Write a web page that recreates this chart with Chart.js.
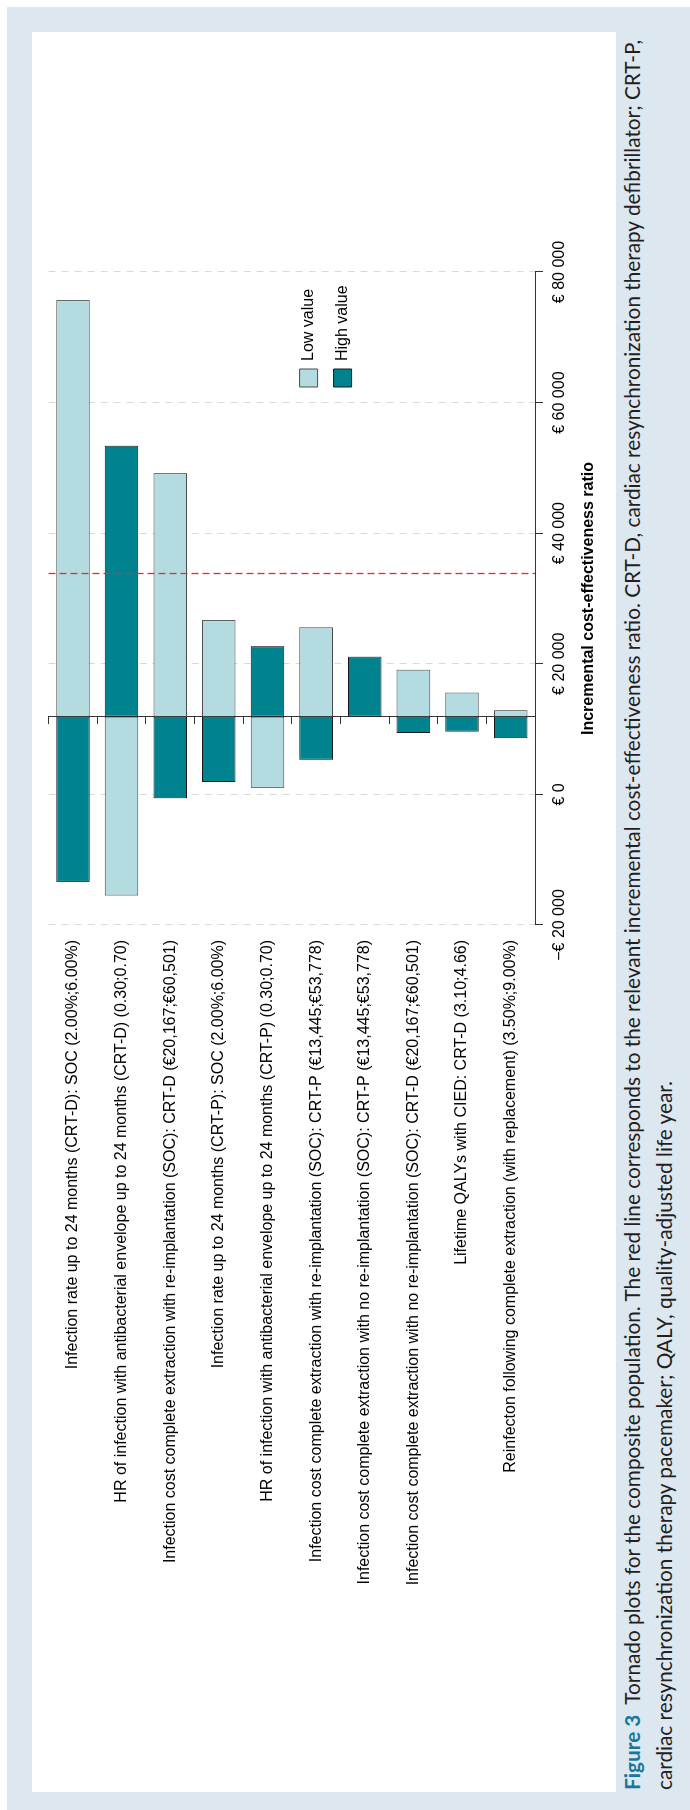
<!DOCTYPE html>
<html>
<head>
<meta charset="utf-8">
<script src="https://cdn.jsdelivr.net/npm/chart.js@4.4.1/dist/chart.umd.min.js"></script>
<style>
  html, body { margin: 0; padding: 0; background: #fff; }
  body { width: 690px; height: 1810px; position: relative; overflow: hidden; }
  #frame { position: absolute; left: 7px; top: 7px; width: 683px; height: 1803px; background: #dde7f0; }
  #panel { position: absolute; left: 32px; top: 32px; width: 584px; height: 1760px; background: #fff; }
  #chartBox { position: absolute; left: 32px; top: 1792px; width: 1760px; height: 584px;
              transform-origin: 0 0; transform: rotate(-90deg); }
  #caption { position: absolute; left: 616px; top: 1792px; width: 1760px; height: 74px;
             transform-origin: 0 0; transform: rotate(-90deg);
             font-family: Lato, "Open Sans", sans-serif; color: #231f20; }
  .cl { position: absolute; left: 2px; height: 32px; line-height: 32px; white-space: nowrap; }
  #cap1 { top: 0px; }
  #cap2 { top: 32px; }
  .fig { font-weight: bold; color: #15789a; }
</style>
</head>
<body>
<div id="frame"></div>
<div id="panel"></div>
<div id="chartBox"><canvas id="c" width="1760" height="584"></canvas></div>
<div id="caption">
  <div class="cl" id="cap1"><span id="cap1s"><span class="fig">Figure 3</span>&nbsp; Tornado plots for the composite population. The red line corresponds to the relevant incremental cost-effectiveness ratio. CRT-D, cardiac resynchronization therapy defibrillator; CRT-P,</span></div>
  <div class="cl" id="cap2"><span>cardiac resynchronization therapy pacemaker; QALY, quality-adjusted life year.</span></div>
</div>
<script>
// ---- data ----
const categories = [
  'Infection rate up to 24 months (CRT-D): SOC (2.00%;6.00%)',
  'HR of infection with antibacterial envelope up to 24 months (CRT-D) (0.30;0.70)',
  'Infection cost complete extraction with re-implantation (SOC): CRT-D (€20,167;€60,501)',
  'Infection rate up to 24 months (CRT-P): SOC (2.00%;6.00%)',
  'HR of infection with antibacterial envelope up to 24 months (CRT-P) (0.30;0.70)',
  'Infection cost complete extraction with re-implantation (SOC): CRT-P (€13,445;€53,778)',
  'Infection cost complete extraction with no re-implantation (SOC): CRT-P (€13,445;€53,778)',
  'Infection cost complete extraction with no re-implantation (SOC): CRT-D (€20,167;€60,501)',
  'Lifetime QALYs with CIED: CRT-D (3.10;4.66)',
  'Reinfecton following complete extraction (with replacement) (3.50%;9.00%)'
];
const lowValues  = [75700, -15500, 49200, 26700, 1000, 25600, null, 19100, 15600, 12900];
const highValues = [-13400, 53400, -600, 1900, 22700, 5300, 21100, 9400, 9600, 8600];
const baseIcer = 11900;
const thresholdIcer = 33800;
const seriesNames = ['Low value', 'High value'];
const valueTicks = [-20000, 0, 20000, 40000, 60000, 80000];
const valueTickLabels = ['\u2212\u20AC 20 000', '\u20AC 0', '\u20AC 20 000', '\u20AC 40 000', '\u20AC 60 000', '\u20AC 80 000'];
const axisTitle = 'Incremental cost-effectiveness ratio';

// ---- caption sizing ----
(function () {
  const s = document.getElementById('cap1s');
  const c1 = document.getElementById('cap1'), c2 = document.getElementById('cap2');
  c1.style.fontSize = '20px';
  const w = s.offsetWidth;
  const fs = 20 * 1752 / w;
  c1.style.fontSize = fs + 'px';
  c2.style.fontSize = fs + 'px';
})();

// ---- chart ----
Chart.defaults.font.family = "'Liberation Sans', Arial, sans-serif";
Chart.defaults.font.size = 16;
Chart.defaults.color = '#000';

const thresholdLine = {
  id: 'thresholdLine',
  afterDatasetsDraw(chart) {
    const {ctx, chartArea, scales} = chart;
    const px = Math.round(scales.x.getPixelForValue(thresholdIcer)) + 0.5;
    ctx.save();
    ctx.strokeStyle = '#e8283c';
    ctx.lineWidth = 1.3;
    ctx.setLineDash([7, 4]);
    ctx.beginPath();
    ctx.moveTo(px, chartArea.top);
    ctx.lineTo(px, chartArea.bottom);
    ctx.stroke();
    ctx.restore();
  }
};

const legendPlacer = {
  id: 'legendPlacer',
  afterLayout(chart) {
    const lg = chart.legend;
    if (!lg) return;
    lg.left = chart.chartArea.right - 131;
    lg.top = chart.chartArea.top + 235;
  }
};

const toBars = (vals) => vals.map(v => (v === null ? null : [baseIcer, v]));

new Chart(document.getElementById('c'), {
  type: 'bar',
  data: {
    labels: categories,
    datasets: [
      {
        label: seriesNames[0], data: toBars(lowValues),
        backgroundColor: '#b4dbe0', borderColor: '#4d4d4d', borderWidth: 1,
        borderSkipped: false, grouped: false, barPercentage: 0.69, categoryPercentage: 1
      },
      {
        label: seriesNames[1], data: toBars(highValues),
        backgroundColor: '#00838f', borderColor: '#1a1a1a', borderWidth: 1,
        borderSkipped: false, grouped: false, barPercentage: 0.69, categoryPercentage: 1
      }
    ]
  },
  options: {
    indexAxis: 'y',
    responsive: false,
    animation: false,
    devicePixelRatio: 1,
    events: [],
    layout: { padding: { top: 16, right: 240, bottom: 0, left: 0 } },
    plugins: {
      tooltip: { enabled: false },
      legend: {
        position: 'chartArea', align: 'start',
        labels: { boxWidth: 18, boxHeight: 18, padding: 16, color: '#000', font: { size: 16 } }
      }
    },
    scales: {
      x: {
        type: 'linear', position: 'bottom', min: -20000, max: 80000,
        afterFit(s) { s.height = 81; },
        afterBuildTicks(s) { s.ticks = valueTicks.map(v => ({ value: v })); },
        ticks: { callback: (v, i) => valueTickLabels[i], maxRotation: 0, minRotation: 0, autoSkip: false, padding: 7, color: '#000', font: { size: 16 } },
        grid: { color: '#d9d9d9', lineWidth: 1, drawTicks: true, tickLength: 8, tickColor: '#333', tickWidth: 1 },
        border: { display: true, color: '#333', width: 1, dash: [7, 6] },
        title: { display: true, text: axisTitle, color: '#000', font: { size: 16, weight: 'bold' }, padding: { top: 0, bottom: 18 } }
      },
      y: {
        type: 'category', position: 'left',
        afterFit(s) { s.width = 867; },
        grid: { display: false },
        border: { display: false },
        ticks: { autoSkip: false, padding: 7, color: '#000', font: { size: 16 } }
      },
      y2: {
        type: 'category', axis: 'y', position: { x: baseIcer }, offset: true,
        grid: { display: true, offset: true, drawOnChartArea: false, drawTicks: true, tickLength: 7, tickColor: '#333', tickWidth: 1, color: '#333' },
        border: { display: true, color: '#333', width: 1 },
        ticks: { display: false }
      }
    }
  },
  plugins: [thresholdLine, legendPlacer]
});
</script>
</body>
</html>
